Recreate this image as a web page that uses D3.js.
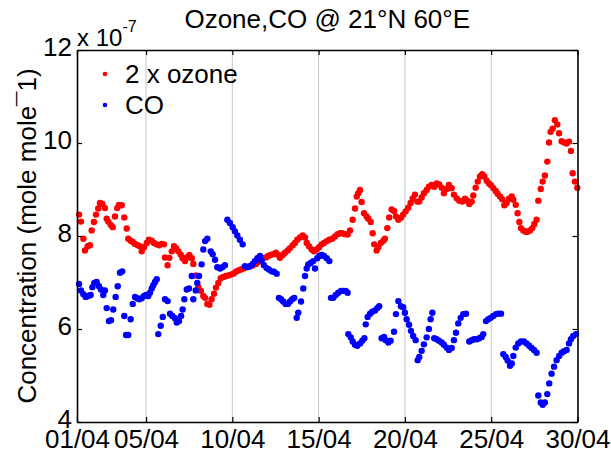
<!DOCTYPE html>
<html>
<head>
<meta charset="utf-8">
<script src="https://cdn.jsdelivr.net/npm/d3@7"></script>
<style>
  body { margin: 0; background: #fff; }
  text { font-family: "Liberation Sans", Arial, sans-serif; fill: #000; }
</style>
</head>
<body>
<div id="container"></div>
<script>

// 2 x ozone, day of April (fractional) and value (x 1e-7)
var ozoneDay = [1.12,1.23,1.37,1.46,1.62,1.75,1.85,1.98,2.10,2.23,2.33,2.47,2.62,2.72,2.81,2.95,3.07,3.20,3.33,3.43,
  3.59,3.74,3.88,3.97,4.11,4.23,4.36,4.52,4.65,4.75,4.88,5.04,5.17,5.33,5.46,5.62,5.77,5.91,6.04,6.10,
  6.25,6.35,6.49,6.62,6.74,6.87,7.01,7.12,7.26,7.36,7.51,7.65,7.74,7.89,8.03,8.18,8.32,8.42,8.55,8.67,
  8.80,8.94,9.05,9.19,9.33,9.48,9.63,9.77,9.92,10.06,10.21,10.35,10.50,10.64,10.79,10.92,11.06,11.21,11.37,11.50,
  11.66,11.79,11.95,12.08,12.22,12.37,12.53,12.66,12.76,12.92,13.05,13.21,13.34,13.50,13.63,13.76,13.92,14.08,14.21,14.31,
  14.44,14.60,14.73,14.89,15.02,15.18,15.31,15.47,15.62,15.79,15.95,16.10,16.24,16.37,16.53,16.68,16.82,16.97,17.11,17.21,
  17.30,17.40,17.49,17.63,17.78,17.88,18.02,18.13,18.22,18.36,18.46,18.60,18.75,18.84,18.98,19.09,19.23,19.37,19.48,19.62,
  19.77,19.90,20.04,20.19,20.33,20.45,20.58,20.72,20.83,20.97,21.10,21.26,21.39,21.55,21.70,21.84,21.99,22.13,22.26,22.42,
  22.55,22.71,22.84,23.00,23.15,23.32,23.48,23.61,23.73,23.87,23.96,24.10,24.22,24.35,24.48,24.60,24.74,24.87,24.99,25.12,
  25.26,25.37,25.51,25.64,25.76,25.90,26.03,26.19,26.28,26.42,26.53,26.63,26.72,26.86,27.00,27.11,27.25,27.38,27.50,27.63,
  27.73,27.87,27.98,28.11,28.25,28.35,28.44,28.56,28.69,28.83,28.93,29.08,29.22,29.37,29.51,29.62,29.72,29.85,29.99];
var ozoneVal = [8.46,8.31,7.94,7.69,7.78,7.80,8.12,8.30,8.46,8.59,8.71,8.69,8.60,8.37,8.31,8.24,8.19,8.42,8.60,8.67,
  8.66,8.40,8.16,7.94,7.90,7.87,7.83,7.80,7.78,7.67,7.76,7.85,7.92,7.90,7.85,7.82,7.80,7.83,7.82,7.54,
  7.37,7.53,7.67,7.78,7.74,7.67,7.60,7.52,7.46,7.54,7.59,7.52,7.40,7.15,6.90,6.82,6.71,6.67,6.54,6.52,
  6.64,6.76,6.89,6.99,7.09,7.12,7.14,7.15,7.17,7.19,7.23,7.26,7.28,7.30,7.33,7.34,7.35,7.37,7.40,7.44,
  7.49,7.53,7.54,7.57,7.59,7.61,7.64,7.59,7.53,7.59,7.64,7.69,7.74,7.80,7.85,7.92,7.97,8.01,7.97,7.85,
  7.78,7.71,7.67,7.71,7.76,7.82,7.85,7.89,7.92,7.94,7.99,8.04,8.06,8.06,8.04,8.03,8.12,8.35,8.59,8.85,
  8.92,8.99,8.73,8.49,8.42,8.37,8.30,8.06,7.82,7.69,7.76,7.85,7.90,7.94,8.17,8.40,8.57,8.54,8.42,8.35,
  8.39,8.46,8.53,8.61,8.71,8.81,8.89,8.74,8.74,8.83,8.92,8.99,9.06,9.10,9.06,9.13,9.11,9.04,8.92,9.01,
  9.10,9.03,8.89,8.81,8.76,8.74,8.80,8.76,8.69,8.74,8.87,9.04,9.17,9.28,9.33,9.28,9.19,9.13,9.09,9.03,
  8.97,8.91,8.85,8.79,8.66,8.71,8.80,8.85,8.78,8.67,8.49,8.30,8.17,8.12,8.09,8.09,8.12,8.17,8.26,8.35,
  8.76,9.01,9.17,9.30,9.60,10.01,10.24,10.31,10.49,10.40,10.21,10.04,10.01,9.99,10.03,9.83,9.35,9.17,9.04];

// CO, day of April (fractional) and value (x 1e-7), satellite passes with gaps
var coDay = [1.12,1.23,1.37,1.50,1.65,1.79,1.89,2.00,2.14,2.27,2.39,2.52,2.62,2.72,2.85,2.97,3.10,3.24,3.36,3.49,
  3.62,3.74,3.84,3.97,4.11,4.23,4.36,4.49,4.61,4.75,4.88,5.00,5.13,5.23,5.33,5.42,5.52,5.62,
  5.71,5.85,5.97,6.10,6.25,6.39,6.52,6.68,6.78,6.91,7.03,7.12,7.22,7.36,7.49,7.65,7.74,7.88,7.97,8.07,
  8.22,8.32,8.42,8.55,8.75,8.86,9.00,9.13,9.29,9.42,9.57,
  9.71,9.86,10.02,10.15,10.29,10.44,10.60,
  10.73,10.87,11.02,11.18,11.31,11.45,11.60,11.70,11.83,11.99,12.12,12.28,12.41,12.57,
  12.70,12.82,12.95,13.09,13.22,13.34,13.47,13.59,
  13.73,13.82,13.98,14.11,14.21,14.31,14.40,14.54,14.69,14.79,14.92,15.04,15.18,15.31,15.47,15.62,
  15.72,15.85,15.99,16.14,16.30,16.43,16.57,16.68,
  16.72,16.86,16.97,17.11,17.24,17.40,17.53,17.65,
  17.73,17.84,17.98,18.11,18.27,18.40,18.51,
  18.65,18.79,18.89,19.04,19.17,19.37,
  19.48,19.62,19.77,19.90,20.00,20.10,20.24,20.35,20.48,20.62,
  20.74,20.83,20.97,21.10,21.26,21.39,21.49,21.59,
  21.70,21.84,21.97,22.13,22.26,22.42,22.55,22.71,22.84,22.96,23.09,23.23,23.38,23.54,
  23.73,23.87,24.00,24.16,24.31,24.45,24.54,
  24.70,24.83,24.97,25.12,25.28,25.41,25.57,
  25.70,25.84,25.95,26.09,26.19,26.28,26.42,26.57,26.72,26.90,27.05,27.20,27.34,27.48,27.63,
  27.73,27.87,27.98,28.11,28.25,28.36,28.50,28.64,28.79,28.94,29.08,29.22,29.37,29.51,29.62,29.75,29.91];
var coVal = [6.97,6.83,6.75,6.69,6.71,6.73,6.90,6.99,7.01,6.92,6.85,6.73,6.83,6.45,6.17,6.19,6.42,6.69,6.92,7.21,
  7.24,6.28,5.87,5.87,6.21,6.54,6.69,6.66,6.64,6.66,6.71,6.73,6.71,6.78,6.87,6.94,7.01,7.07,
  5.89,6.07,6.26,6.64,6.60,6.33,6.28,6.23,6.14,6.17,6.28,6.42,6.64,6.85,6.87,7.14,6.64,6.83,6.99,7.14,
  7.39,7.71,7.89,7.94,7.67,7.61,7.49,7.33,7.30,7.33,7.37,
  8.35,8.28,8.19,8.10,8.01,7.92,7.82,
  7.35,7.33,7.35,7.40,7.46,7.52,7.57,7.47,7.37,7.31,7.28,7.24,7.23,7.19,
  6.67,6.64,6.59,6.54,6.54,6.59,6.64,6.67,
  6.24,6.35,6.59,6.87,7.14,7.30,7.39,7.42,7.46,7.30,7.52,7.57,7.59,7.57,7.52,7.46,
  6.67,6.67,6.73,6.78,6.82,6.82,6.82,6.78,
  5.89,5.82,5.73,5.66,5.64,5.69,5.75,5.80,
  6.10,6.26,6.33,6.37,6.40,6.45,6.49,
  5.80,5.83,5.76,5.71,5.75,5.94,
  6.32,6.60,6.49,6.47,6.35,6.21,6.09,5.96,5.85,5.76,
  5.33,5.40,5.53,5.67,5.82,6.00,6.21,6.35,
  5.80,5.78,5.75,5.71,5.66,5.60,5.55,5.59,5.76,5.92,6.12,6.24,6.32,6.33,
  5.73,5.76,5.78,5.78,5.80,5.83,5.89,
  6.17,6.21,6.24,6.28,6.32,6.33,6.33,
  5.46,5.40,5.32,5.21,5.26,5.42,5.60,5.69,5.73,5.73,5.69,5.64,5.59,5.55,5.49,
  4.57,4.42,4.37,4.42,4.60,4.83,5.04,5.19,5.33,5.42,5.49,5.52,5.55,5.69,5.78,5.85,5.89];

var xTickDays = [1, 5, 10, 15, 20, 25, 30];
var xTickLabels = ["01/04", "05/04", "10/04", "15/04", "20/04", "25/04", "30/04"];
var yTicks = [4, 6, 8, 10, 12];

var seriesNames = ["2 x ozone", "CO"];
var seriesColors = ["#ff0000", "#0000ff"];

var W = 611, H = 454;
var margin = {top: 50, right: 33.5, bottom: 32, left: 77};
var iw = W - margin.left - margin.right;
var ih = H - margin.top - margin.bottom;
var FONT = 26;

var svg = d3.select("#container").append("svg")
    .attr("width", W)
    .attr("height", H);

var g = svg.append("g")
    .attr("transform", "translate(" + margin.left + "," + margin.top + ")");

var x = d3.scaleLinear().domain([1, 30]).range([0, iw]);
var y = d3.scaleLinear().domain([4, 12]).range([ih, 0]);

// vertical grid at inner ticks
g.append("g").selectAll("line")
  .data(xTickDays.slice(1, -1))
  .enter().append("line")
    .attr("x1", d => x(d)).attr("x2", d => x(d))
    .attr("y1", 0).attr("y2", ih)
    .attr("stroke", "#c8c8c8")
    .attr("stroke-width", 1);

// points
function dots(days, vals, color) {
  g.append("g").selectAll("circle")
    .data(days.map((d, i) => [d, vals[i]]))
    .enter().append("circle")
      .attr("cx", d => x(d[0]))
      .attr("cy", d => y(d[1]))
      .attr("r", 3.2)
      .attr("fill", color);
}
dots(ozoneDay, ozoneVal, seriesColors[0]);
dots(coDay, coVal, seriesColors[1]);

// axes, ticks pointing inwards on all four sides
function styleAxis(sel) {
  sel.selectAll("text")
    .style("font-family", '"Liberation Sans", Arial, sans-serif')
    .style("font-size", FONT + "px")
    .attr("fill", "#000");
  sel.selectAll("line").attr("stroke", "#000").attr("stroke-width", 1.2);
  sel.select(".domain").attr("stroke", "#000").attr("stroke-width", 1.6);
}

g.append("g")
    .attr("transform", "translate(0," + ih + ")")
    .call(d3.axisBottom(x).tickValues(xTickDays)
      .tickFormat((d, i) => xTickLabels[i])
      .tickSize(-5).tickSizeOuter(0).tickPadding(8))
    .call(styleAxis);

g.append("g")
    .call(d3.axisTop(x).tickValues(xTickDays).tickFormat("")
      .tickSize(-5).tickSizeOuter(0))
    .call(styleAxis);

g.append("g")
    .call(d3.axisLeft(y).tickValues(yTicks)
      .tickSize(-5).tickSizeOuter(0).tickPadding(5))
    .call(styleAxis)
    .selectAll("text").attr("dy", "0.2em");

g.append("g")
    .attr("transform", "translate(" + iw + ",0)")
    .call(d3.axisRight(y).tickValues(yTicks).tickFormat("")
      .tickSize(-5).tickSizeOuter(0))
    .call(styleAxis);

// exponent label
var expo = svg.append("text")
    .attr("x", margin.left)
    .attr("y", 46)
    .style("font-size", "24px")
    .text("x 10");
expo.append("tspan")
    .attr("dy", -14)
    .style("font-size", "16px")
    .text("-7");

// title
svg.append("text")
    .attr("x", margin.left + iw / 2)
    .attr("y", 28)
    .attr("text-anchor", "middle")
    .style("font-size", FONT + "px")
    .text("Ozone,CO @ 21°N 60°E");

// y label
svg.append("text")
    .attr("transform", "translate(36," + (margin.top + ih / 2) + ") rotate(-90)")
    .attr("text-anchor", "middle")
    .style("font-size", FONT + "px")
    .text("Concentration (mole mole¯1)");

// legend
var legend = g.append("g").attr("transform", "translate(28,24)");
seriesNames.forEach(function(name, i) {
  var row = legend.append("g").attr("transform", "translate(0," + (i * 31) + ")");
  row.append("circle").attr("r", 2.3).attr("fill", seriesColors[i]);
  row.append("text")
    .attr("x", 20)
    .attr("dy", "0.35em")
    .style("font-size", FONT + "px")
    .text(name);
});

</script>
</body>
</html>
